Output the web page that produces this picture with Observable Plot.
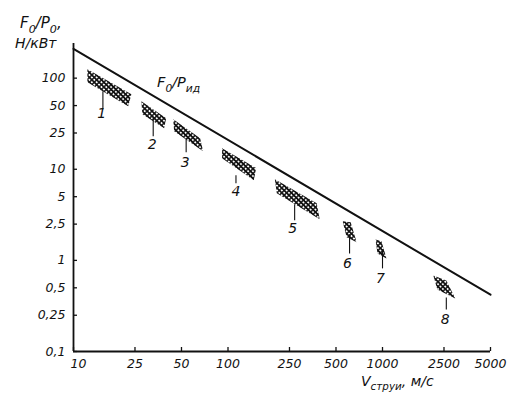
<!DOCTYPE html>
<html>
<head>
<meta charset="utf-8">
<script src="https://cdn.jsdelivr.net/npm/d3@7"></script>
<script src="https://cdn.jsdelivr.net/npm/@observablehq/plot@0.6"></script>
<style>
  html, body { margin: 0; padding: 0; background: #fff; }
  #chart svg { display: block; }
</style>
</head>
<body>
<div id="chart"></div>
<script>
// Axis ticks: jet speed (m/s) and thrust-to-power ratio (N/kW)
const xTicks = [10, 25, 50, 100, 250, 500, 1000, 2500, 5000];
const yTicks = [0.1, 0.25, 0.5, 1, 2.5, 5, 10, 25, 50, 100];

// Ideal thrust-to-power line F0/Pид
const idealV = [10, 5000];
const idealF = [210, 0.42];

// Hatched regions of the engine types: corner points (speed, F0/P0) around each outline
const regionIds = ["1", "2", "3", "4", "5", "6", "7", "8"];
const regionV = [
  [12.3, 23.7, 22.6, 12.3],
  [27.5, 39.8, 38.6, 27.9],
  [44.2, 66.0, 69.0, 44.8],
  [91.5, 152, 147, 91.5],
  [201, 375, 392, 207],
  [552, 622, 680, 586],
  [901, 985, 1061, 928],
  [2133, 2588, 2958, 2264]
];
const regionF = [
  [125.6, 66.7, 49.2, 90.4],
  [55.9, 36.3, 28.2, 40.2],
  [35.4, 21.9, 15.8, 26.2],
  [17.0, 10.3, 7.57, 13.2],
  [7.77, 4.23, 2.82, 5.45],
  [2.68, 2.62, 1.58, 1.79],
  [1.70, 1.62, 1.05, 1.19],
  [0.684, 0.603, 0.382, 0.480]
];

// Leader lines from each region down to its number, and the numbers
const leaderV = [15.5, 32.8, 53.6, 112.6, 270, 612, 1000, 2588];
const leaderTop = [72, 37.3, 21.9, 8.59, 4.12, 1.93, 1.32, 0.392];
const leaderBottom = [45.6, 23.0, 15.4, 7.02, 2.75, 1.19, 0.817, 0.289];
const labelV = [15.2, 32.3, 52.9, 112.6, 262, 594, 971, 2550];
const labelF = [41.3, 18.8, 11.9, 5.73, 2.25, 0.927, 0.634, 0.225];

// Anchor of the ideal-line caption
const idealLabelV = 35;
const idealLabelF = 78;

// ---- tables built from the arrays above ----
const ideal = idealV.map((v, i) => ({v, f: idealF[i]}));
const regions = regionIds.flatMap((id, k) => {
  const pts = regionV[k].map((v, i) => ({id, v, f: regionF[k][i]}));
  return [...pts, pts[0]];
});
const leaders = regionIds.map((id, i) => ({id, v: leaderV[i], f1: leaderTop[i], f2: leaderBottom[i]}));
const labels = regionIds.map((id, i) => ({id, v: labelV[i], f: labelF[i]}));

const fmt = d => String(d).replace(".", ",");
const FONT = "'DejaVu Sans', sans-serif";
const INK = "#111";
const yMin = yTicks[0];
const xMin = xTicks[0];

// Cross-hatch fill used by the regions
function hatchDefs() {
  const defs = d3.create("svg:defs");
  const s = 3.4;
  const p = defs.append("pattern")
    .attr("id", "xhatch")
    .attr("patternUnits", "userSpaceOnUse")
    .attr("width", s).attr("height", s)
    .attr("patternTransform", "rotate(45)");
  p.append("path")
    .attr("d", `M0,${s / 2}H${s}M${s / 2},0V${s}`)
    .attr("stroke", "#111")
    .attr("stroke-width", 1.5);
  return defs.node();
}

// Italic text with subscripted pieces: parts = [[text, isSub], ...]
function richText(parts, x, y, size) {
  const t = d3.create("svg:text")
    .attr("x", x).attr("y", y)
    .attr("text-anchor", "start")
    .attr("font-family", FONT)
    .attr("font-style", "italic")
    .attr("font-size", size)
    .attr("fill", INK);
  let shifted = false;
  for (const [str, sub] of parts) {
    const span = t.append("tspan").text(str);
    if (sub && !shifted) { span.attr("dy", size * 0.32); shifted = true; }
    else if (!sub && shifted) { span.attr("dy", -size * 0.32); shifted = false; }
    if (sub) span.attr("font-size", size * 0.74);
  }
  return t.node();
}

const chart = Plot.plot({
  width: 517,
  height: 402,
  marginLeft: 73,
  marginRight: 27,
  marginTop: 43,
  marginBottom: 51,
  style: {fontFamily: FONT, fontStyle: "italic", fontSize: "12.5px", color: INK, background: "#fff"},
  x: {type: "log", domain: [10, 5000], label: null},
  y: {type: "log", domain: [0.1, 240], label: null},
  marks: [
    hatchDefs,
    // inward tick marks
    Plot.axisY(yTicks, {tickSize: -4, tickFormat: () => "", strokeWidth: 1.3}),
    Plot.axisX(xTicks, {tickSize: -4, tickFormat: () => "", strokeWidth: 1.3}),
    // tick labels, with decimal commas
    Plot.text(yTicks, {y: d => d, frameAnchor: "left", dx: -8, textAnchor: "end", text: fmt, fontSize: 12.5}),
    Plot.text(xTicks.slice(1), {x: d => d, y: () => yMin, dy: 12, lineAnchor: "middle", text: fmt, fontSize: 12.5}),
    Plot.text([xMin], {x: d => d, y: () => yMin, dy: 12, dx: 5, lineAnchor: "middle", text: fmt, fontSize: 12.5}),
    // axis lines
    Plot.ruleX([xMin], {stroke: INK, strokeWidth: 1.8}),
    Plot.ruleY([yMin], {stroke: INK, strokeWidth: 1.8}),
    // ideal line
    Plot.line(ideal, {x: "v", y: "f", stroke: INK, strokeWidth: 2}),
    // engine regions
    Plot.line(regions, {x: "v", y: "f", z: "id", fill: "url(#xhatch)", stroke: "none"}),
    Plot.link(leaders, {x1: "v", x2: "v", y1: "f1", y2: "f2", stroke: INK, strokeWidth: 1.1}),
    Plot.text(labels, {x: "v", y: "f", text: "id", fontSize: 14, fill: INK}),
    // captions with subscripts
    (index, scales) => richText([["F", false], ["0", true], ["/P", false], ["ид", true]],
      scales.x(idealLabelV), scales.y(idealLabelF), 14.5),
    () => richText([["F", false], ["0", true], ["/P", false], ["0", true], [",", false]], 20, 28, 15),
    () => richText([["Н/кВт", false]], 15, 48, 14),
    () => richText([["V", false], ["струи", true], [", м/с", false]], 361, 386, 14)
  ]
});

document.getElementById("chart").appendChild(chart);
</script>
</body>
</html>
